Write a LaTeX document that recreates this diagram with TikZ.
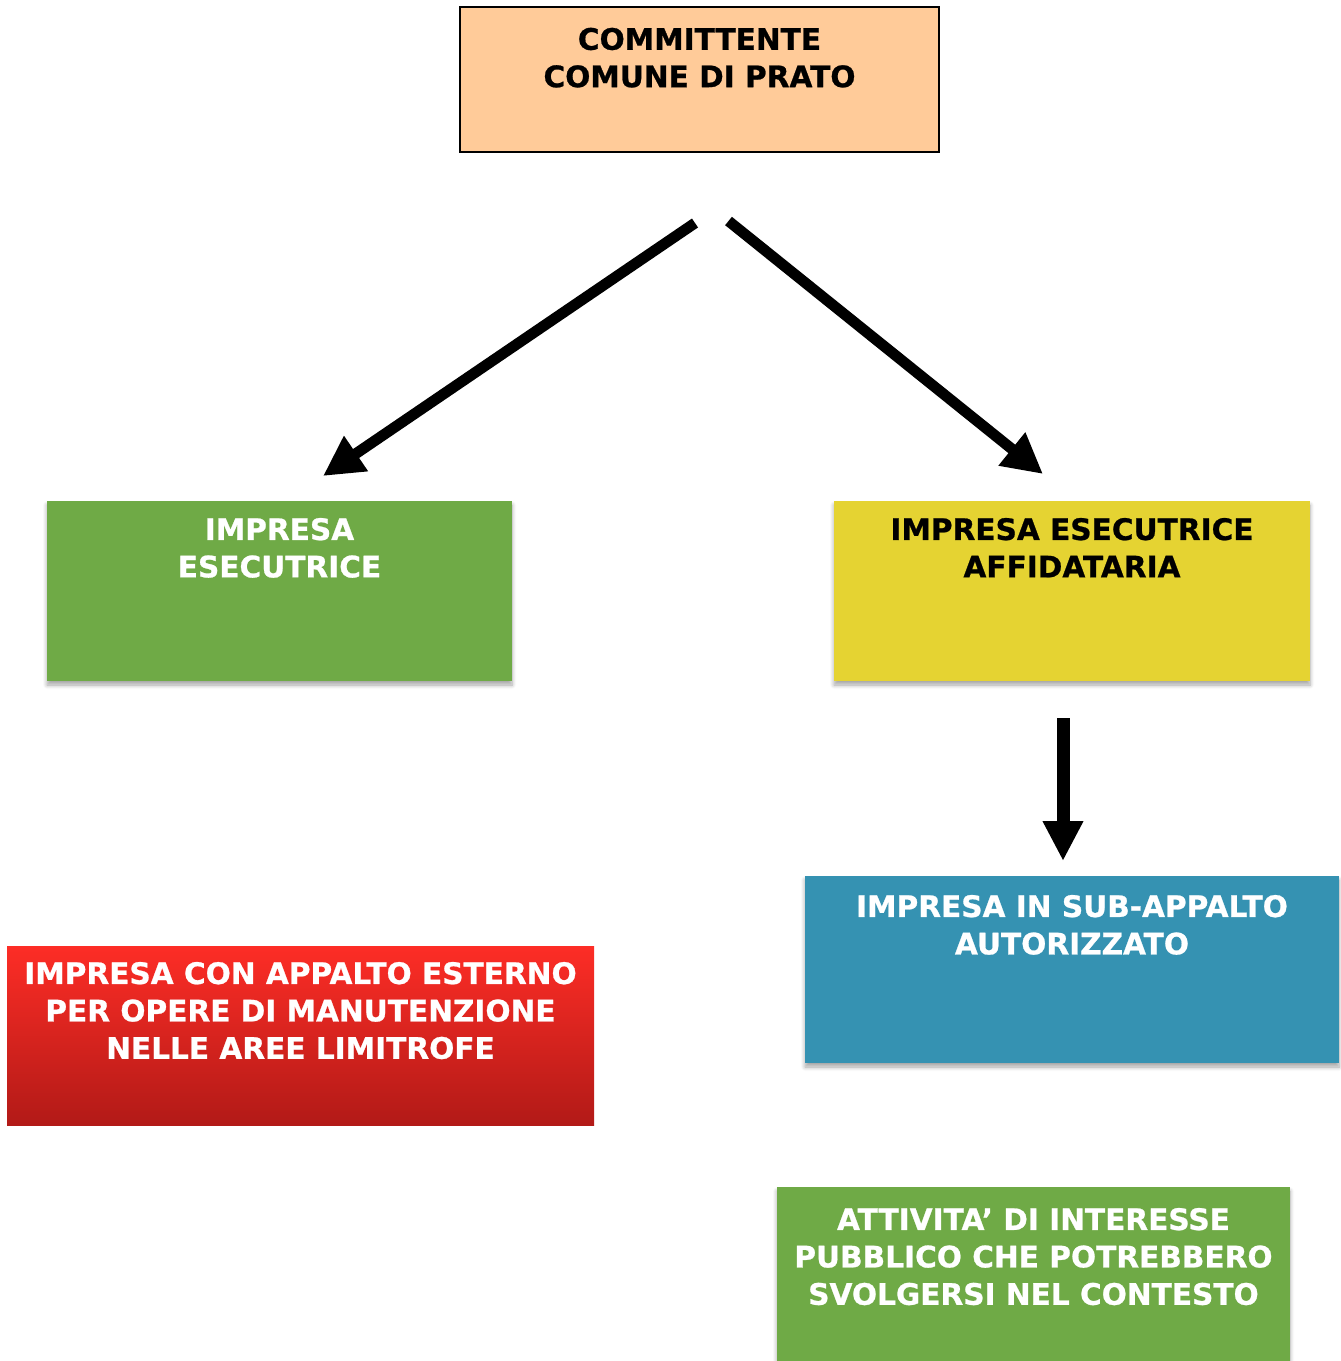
\documentclass[tikz,border=0pt]{standalone}
\usepackage{fontspec}
\setmainfont[BoldFeatures={FakeBold=0.8}]{DejaVu Sans}
\usetikzlibrary{arrows.meta,shadows,shadows.blur,calc}
\definecolor{orangebox}{RGB}{255,203,153}
\definecolor{greenbox}{RGB}{111,170,70}
\definecolor{yellowbox}{RGB}{229,211,50}
\definecolor{bluebox}{RGB}{53,146,178}
\definecolor{redtop}{RGB}{253,45,38}
\definecolor{redbot}{RGB}{178,26,23}
\tikzset{
  box/.style={rectangle, inner sep=0pt, draw=none},
  shadowed/.style={blur shadow={shadow xshift=0pt, shadow yshift=-2pt, shadow blur steps=6, shadow blur radius=2pt, shadow blur extra rounding=0pt, shadow opacity=35}},
  txt/.style={anchor=north, inner sep=0pt, align=center, font=\fontsize{14.8pt}{18.7pt}\selectfont\bfseries},
  bigarrow/.style={line width=5.4pt, -{Triangle[length=20pt, width=20pt]}},
  downarrow/.style={line width=6.5pt, -{Triangle[length=20pt, width=19pt]}}
}
\begin{document}
\begin{tikzpicture}[x=0.5pt, y=-0.5pt]
\useasboundingbox (0,0) rectangle (1340,1361);
% boxes
\node[box, draw=black, line width=0.6pt, fill=orangebox, minimum width=239.5pt, minimum height=72.5pt] (comm) at (699.5,79.5) {};
\node[box, shadowed, fill=greenbox, minimum width=232.5pt, minimum height=90pt] (ese) at (279.5,591) {};
\node[box, shadowed, fill=yellowbox, minimum width=238pt, minimum height=90pt] (aff) at (1072,591) {};
\node[box, shadowed, fill=bluebox, minimum width=267pt, minimum height=93.5pt] (sub) at (1072,969.5) {};
\node[box, top color=redtop, bottom color=redbot, minimum width=293.5pt, minimum height=89.5pt] (est) at (300.5,1035.5) {};
\node[box, shadowed, fill=greenbox, minimum width=256.5pt, minimum height=87pt] (att) at (1033.5,1274) {};
% texts
\node[txt, text=black] (commT) at ($(comm.north)+(0,21)$) {COMMITTENTE\\COMUNE DI PRATO};
\node[txt, text=white] (eseT) at ($(ese.north)+(0,17)$) {IMPRESA\\ESECUTRICE};
\node[txt, text=black] (affT) at ($(aff.north)+(0,17)$) {IMPRESA ESECUTRICE\\AFFIDATARIA};
\node[txt, text=white] (subT) at ($(sub.north)+(0,19)$) {IMPRESA IN SUB-APPALTO\\AUTORIZZATO};
\node[txt, text=white] (estT) at ($(est.north)+(0,16)$) {IMPRESA CON APPALTO ESTERNO\\PER OPERE DI MANUTENZIONE\\NELLE AREE LIMITROFE};
\node[txt, text=white] (attT) at ($(att.north)+(0,21)$) {ATTIVITA’ DI INTERESSE\\PUBBLICO CHE POTREBBERO\\SVOLGERSI NEL CONTESTO};
% arrows
\coordinate (la) at (695,223);
\coordinate (lb) at (323,476);
\coordinate (ra) at (728.5,221);
\coordinate (rb) at (1043,474);
\coordinate (da) at (1063,718);
\coordinate (db) at (1063,861);
\draw[bigarrow] (la) -- (lb);
\draw[bigarrow] (ra) -- (rb);
\draw[downarrow] (da) -- (db);
\end{tikzpicture}
\end{document}
